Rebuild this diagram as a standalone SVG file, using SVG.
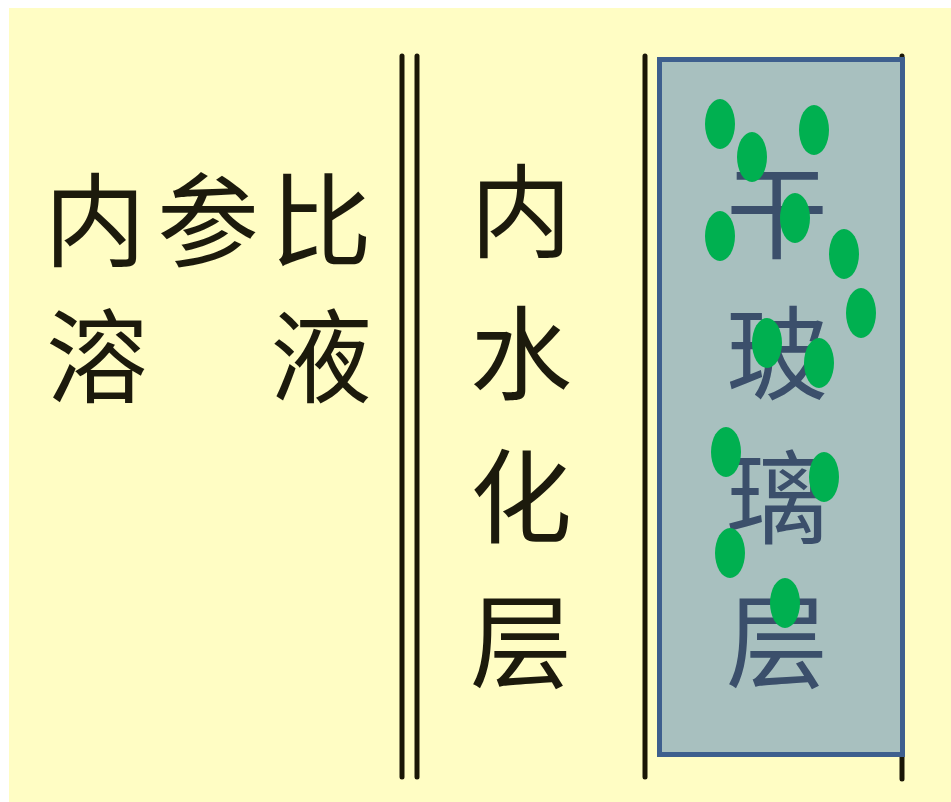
<svg xmlns="http://www.w3.org/2000/svg" width="951" height="802" viewBox="0 0 951 802">
  <style>
    .t { font-family: "Noto Sans CJK SC", "Noto Sans", sans-serif; font-size: 102px; fill: #1c1a0c; text-anchor: middle; dominant-baseline: central; }
    .tb { fill: #3b4f6b; }
    .ln { stroke: #1a1606; stroke-width: 5; stroke-linecap: round; fill: none; }
    .dot { fill: #00b050; }
  </style>
  <rect x="0" y="0" width="951" height="802" fill="#ffffff"/>
  <rect x="9" y="8" width="942" height="794" fill="#fffdc4"/>

  <g id="connectors">
    <line class="ln" x1="402" y1="56" x2="402" y2="777"/>
    <line class="ln" x1="417" y1="56" x2="417" y2="777"/>
    <line class="ln" x1="645" y1="56" x2="645" y2="777"/>
    <line class="ln" x1="902" y1="56" x2="902" y2="779"/>
  </g>

  <g id="reference-solution">
    <text class="t" x="95" y="214">内</text>
    <text class="t" x="208" y="214">参</text>
    <text class="t" x="321" y="214">比</text>
    <text class="t" x="97" y="350">溶</text>
    <text class="t" x="321" y="350">液</text>
  </g>

  <g id="hydrated-layer">
    <text class="t" x="521" y="205">内</text>
    <text class="t" x="521" y="347">水</text>
    <text class="t" x="521" y="490">化</text>
    <text class="t" x="521" y="635">层</text>
  </g>

  <g id="dry-glass-layer">
    <rect x="659.5" y="59.5" width="243" height="695" fill="#a8c0bf" stroke="#3e5f8e" stroke-width="5"/>
    <text class="t tb" x="777" y="206">干</text>
    <text class="t tb" x="777" y="347">玻</text>
    <text class="t tb" x="777" y="491">璃</text>
    <text class="t tb" x="777" y="635">层</text>
    <ellipse class="dot" cx="720" cy="124" rx="15" ry="25"/>
    <ellipse class="dot" cx="752" cy="157" rx="15" ry="25"/>
    <ellipse class="dot" cx="814" cy="130" rx="15" ry="25"/>
    <ellipse class="dot" cx="720" cy="236" rx="15" ry="25"/>
    <ellipse class="dot" cx="795" cy="218" rx="15" ry="25"/>
    <ellipse class="dot" cx="844" cy="254" rx="15" ry="25"/>
    <ellipse class="dot" cx="861" cy="313" rx="15" ry="25"/>
    <ellipse class="dot" cx="767" cy="343" rx="15" ry="25"/>
    <ellipse class="dot" cx="819" cy="363" rx="15" ry="25"/>
    <ellipse class="dot" cx="726" cy="452" rx="15" ry="25"/>
    <ellipse class="dot" cx="824" cy="477" rx="15" ry="25"/>
    <ellipse class="dot" cx="730" cy="553" rx="15" ry="25"/>
    <ellipse class="dot" cx="785" cy="603" rx="15" ry="25"/>
  </g>
</svg>
